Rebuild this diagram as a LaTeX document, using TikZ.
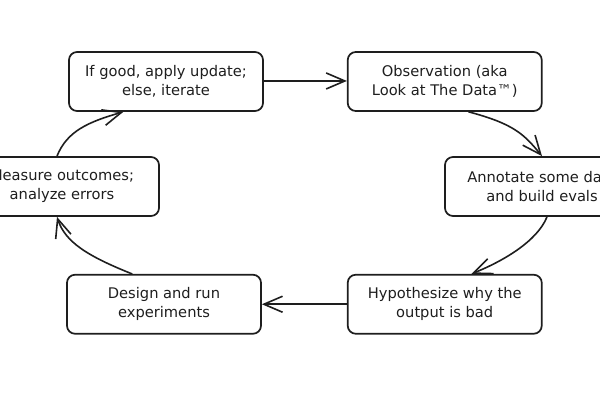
\documentclass[tikz,border=0pt]{standalone}
\usepackage{fontspec}
\setmainfont{DejaVu Sans}
\usepackage{xcolor}
\usepackage{tikz}
\usetikzlibrary{arrows.meta,positioning}

\definecolor{ink}{HTML}{1E1E1E}

\begin{document}
\begin{tikzpicture}[
    x=0.75pt, y=-0.75pt,
    node distance=121.5pt and 62.25pt,
    every node/.style={font=\fontsize{11}{14.5}\selectfont, text=ink},
    stepbox/.style={
        rectangle, draw=ink, rounded corners=6pt,
        minimum height=44.25pt, minimum width=145.5pt,
        align=center, fill=white, line width=1.3pt
    },
    flow/.style={
        -{Straight Barb[length=14pt, width=12pt, line width=1.2pt]},
        draw=ink, line width=1.2pt, line cap=round
    }
]

\useasboundingbox (0,0) rectangle (600,400);

% --- Top row ---
\node[stepbox] (update) at (166,81.5) {If good, apply update;\\else, iterate};
\node[stepbox, right=62.25pt of update] (obs) {Observation (aka\\Look at The Data™)};

% --- Bottom row ---
\node[stepbox, below=121.5pt of obs] (hyp) {Hypothesize why the\\output is bad};
\node[stepbox, left=63.75pt of hyp] (design) {Design and run\\experiments};

% --- Side boxes (cut by the page edge) ---
\node[stepbox] (annot) at (542,186.5) {Annotate some data\\and build evals};
\node[stepbox] (measure) at (62,186.5) {Measure outcomes;\\analyze errors};

% --- Arrows ---
% update -> observation
\draw[flow] ([yshift=0.4pt]update.east) -- ([yshift=0.4pt]obs.west);

% observation -> annotate
\draw[flow] ([xshift=18pt]obs.south) .. controls +(45,12) and +(-18,-22) .. (annot.north);

% annotate -> hypothesize
\draw[flow] ([xshift=3.75pt]annot.south) .. controls +(-10,25) and +(30,-12) .. ([xshift=20pt]hyp.north);

% hypothesize -> design
\draw[flow] (hyp.west) -- (design.east);

% design -> measure
\draw[flow] ([xshift=-24pt]design.north) .. controls +(-45,-18) and +(8,25) .. ([xshift=-3.75pt]measure.south);

% measure -> update (closes the loop)
\draw[flow] ([xshift=-3.75pt]measure.north) .. controls +(10,-25) and +(-35,10) .. ([xshift=-32pt]update.south);

\end{tikzpicture}
\end{document}
